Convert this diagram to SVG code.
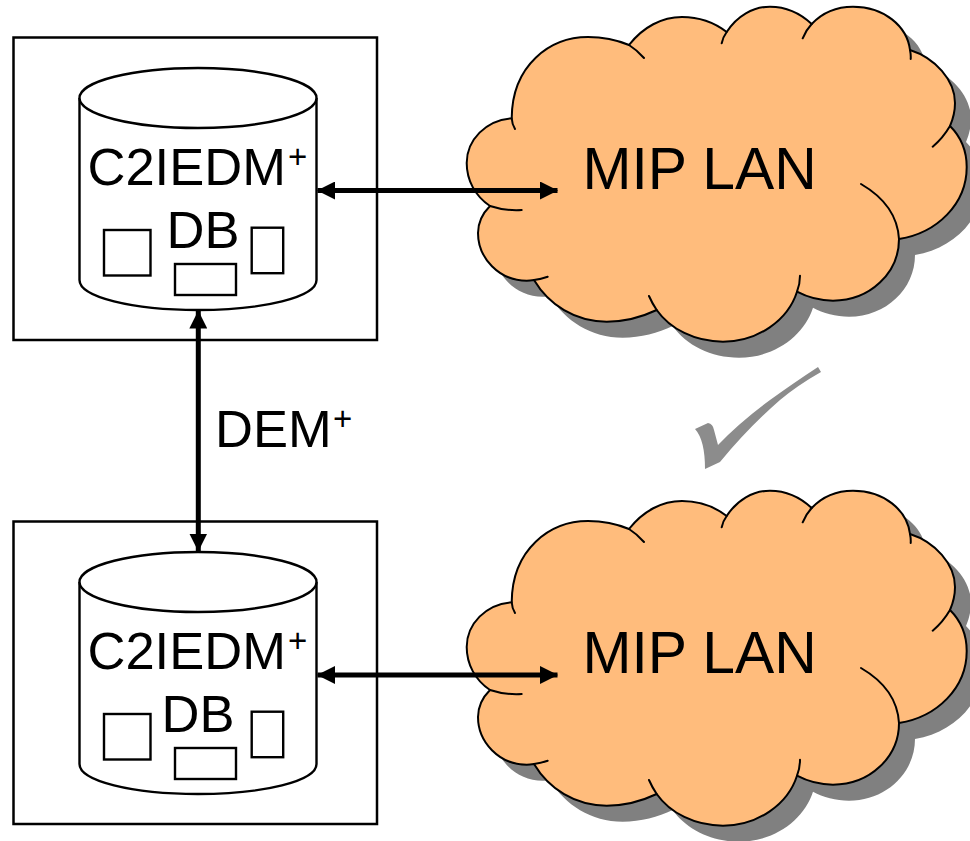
<svg xmlns="http://www.w3.org/2000/svg" width="970" height="841" viewBox="0 0 970 841">
<style>
.box{fill:#fff;stroke:#000;stroke-width:2.5}
.cyl{fill:#fff;stroke:#000;stroke-width:2.4}
.small{fill:#fff;stroke:#000;stroke-width:2.4}
.t{font-family:"Liberation Sans",Arial,sans-serif;fill:#000}
.db{font-size:52.5px}
.sup{font-size:33px}
.lan{font-size:58.8px}
.cl{fill:#ffbc7c;stroke:#000;stroke-width:2;stroke-linejoin:round}
.sh{fill:#808080}
.tip{fill:none;stroke:#000;stroke-width:2;stroke-linecap:round}
.conn{fill:none;stroke:#000;stroke-width:5;marker-start:url(#a);marker-end:url(#a)}
</style>
<defs>
<marker id="a" viewBox="0 0 18 18" refX="17.5" refY="9" markerWidth="18" markerHeight="18" markerUnits="userSpaceOnUse" orient="auto-start-reverse"><path d="M0 0L18 9L0 18Z" fill="#000"/></marker>
<path id="cloud" d="M511.7 118.3C512 65 550 37 588 37C602 37 617 40 629 45C643 27 662 17 682 17C699 17 715 23 726.7 32C737 16 753 6.7 770 6.7C786 6.7 800 13 811.7 24C822 13 837 6.7 853 6.7C884 6.7 907 26 910 50C935 58 955 80 955 103C955 111 953 119 950 126C961 137 966.7 151 966.7 167C966.7 204 937 233 899 239C899 273 870 300.7 833 300.7C820 300.7 807 297 797 291.7C788 320 758 341.7 723 341.7C695 341.7 670 329 656.7 310C642 317 625 321.7 606.7 321.7C575 321.7 549 305 534 280C531 280.5 529 280.7 526.7 280.7C499 280.7 478 258 478 233C478 223 483 213 490 206C475 196 466.7 180 466.7 163C466.7 140 486 120 511.7 118.3Z"/>
<path id="tips" d="M511.7 118.3Q512 124 515 129M629 45Q637 50 644 58M726.7 32Q723 37 721.7 43.3M811.7 24Q806 30 802.7 38.3M910 50Q911 55 910.7 59M950 126Q943 138 932.7 146.7M899 239Q897 205 861 184M797 291.7Q800 284 800 275.7M656.7 310Q652 303 649 296M534 280Q541 279 547.7 276.7M490 206Q505 211 521.7 210"/>
<path id="cyl" d="M79.5 98V280C79.5 297 132 310 198 310S316.5 297 316.5 280V98"/>
</defs>

<g id="system-top">
<rect class="box" x="13.5" y="37.5" width="363.5" height="302.5"/>
<use href="#cyl" class="cyl"/>
<ellipse class="cyl" cx="198" cy="98" rx="118.5" ry="30"/>
<rect class="small" x="104" y="230" width="46.5" height="45.5"/>
<rect class="small" x="175" y="264" width="61" height="31"/>
<rect class="small" x="251.7" y="227.7" width="31.5" height="45.5"/>
<text class="t db" x="87.5" y="185">C2IEDM</text>
<text class="t sup" x="288" y="168">+</text>
<text class="t db" x="166.5" y="248">DB</text>
</g>

<g id="system-bottom">
<rect class="box" x="13.5" y="521.5" width="363.5" height="302.5"/>
<use href="#cyl" class="cyl" y="484"/>
<ellipse class="cyl" cx="198" cy="582" rx="118.5" ry="30"/>
<rect class="small" x="104" y="714" width="46.5" height="45.5"/>
<rect class="small" x="175" y="748" width="61" height="31"/>
<rect class="small" x="251.7" y="711.7" width="31.5" height="45.5"/>
<text class="t db" x="87.5" y="669">C2IEDM</text>
<text class="t sup" x="288" y="652">+</text>
<text class="t db" x="161.5" y="732">DB</text>
</g>

<g id="cloud-top">
<use href="#cloud" class="sh" x="16" y="16"/>
<use href="#cloud" class="cl"/>
<use href="#tips" class="tip"/>
<text class="t lan" x="582.5" y="189">MIP LAN</text>
</g>

<g id="cloud-bottom">
<use href="#cloud" class="sh" x="16" y="500"/>
<use href="#cloud" class="cl" y="484"/>
<use href="#tips" class="tip" y="484"/>
<text class="t lan" x="582.5" y="673">MIP LAN</text>
</g>

<g id="check">
<path d="M705 469Q705 440 695 429L708 423Q713 424 714 430L718 445Q740 422 770 400Q795 382 818 367L821 372Q798 385 780 400Q748 428 720 462Z" fill="#8c8c8c"/>
</g>

<g id="connectors">
<path class="conn" d="M317.5 190.5H557.5"/>
<path class="conn" d="M317.5 675H557.5"/>
<path class="conn" d="M198.3 311V551"/>
</g>

<g id="dem-label">
<text class="t db" x="215" y="447">DEM</text>
<text class="t sup" x="333" y="430">+</text>
</g>
</svg>
